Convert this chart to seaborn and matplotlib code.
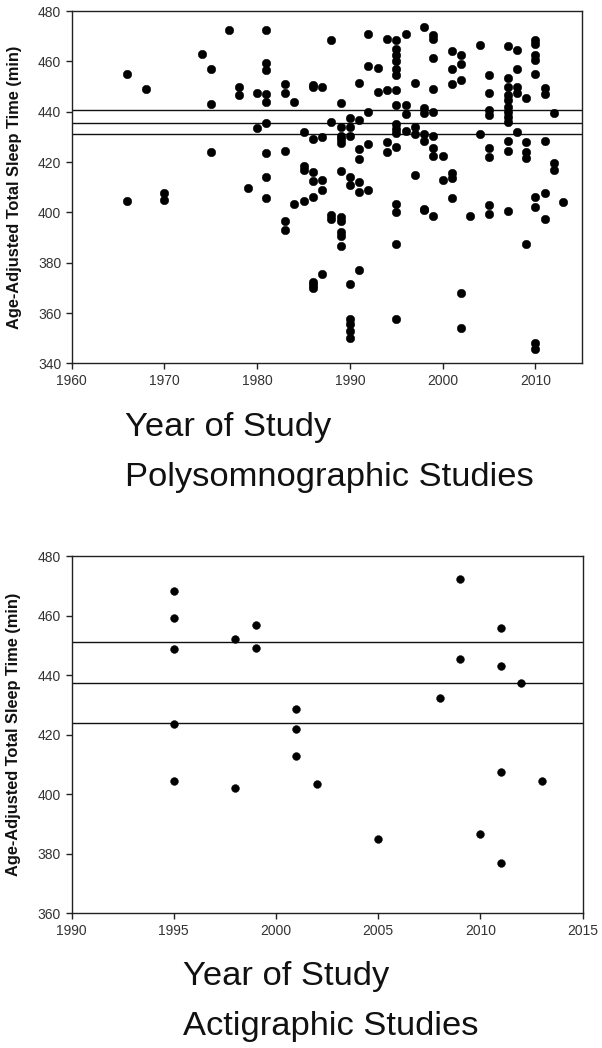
import numpy as np
import pandas as pd
import matplotlib
matplotlib.use("Agg")
import matplotlib.pyplot as plt
import seaborn as sns

# polysomnographic studies: one line per year
psg_year = [
    1966, 1966,
    1968,
    1970, 1970,
    1974,
    1975, 1975, 1975,
    1977,
    1978, 1978,
    1979,
    1980, 1980,
    1981, 1981, 1981, 1981, 1981, 1981, 1981, 1981, 1981,
    1983, 1983, 1983, 1983, 1983,
    1984, 1984,
    1985, 1985, 1985, 1985,
    1986, 1986, 1986, 1986, 1986, 1986, 1986, 1986, 1986,
    1987, 1987, 1987, 1987, 1987,
    1988, 1988, 1988, 1988,
    1989, 1989, 1989, 1989, 1989, 1989, 1989, 1989, 1989, 1989, 1989,
    1990, 1990, 1990, 1990, 1990, 1990, 1990, 1990, 1990, 1990,
    1991, 1991, 1991, 1991, 1991, 1991, 1991,
    1992, 1992, 1992, 1992, 1992,
    1993, 1993,
    1994, 1994, 1994, 1994,
    1995, 1995, 1995, 1995, 1995, 1995, 1995, 1995, 1995, 1995, 1995, 1995, 1995, 1995, 1995, 1995,
    1996, 1996, 1996, 1996,
    1997, 1997, 1997, 1997,
    1998, 1998, 1998, 1998, 1998, 1998, 1998,
    1999, 1999, 1999, 1999, 1999, 1999, 1999, 1999, 1999,
    2000, 2000,
    2001, 2001, 2001, 2001, 2001, 2001,
    2002, 2002, 2002, 2002, 2002,
    2003,
    2004, 2004,
    2005, 2005, 2005, 2005, 2005, 2005, 2005, 2005,
    2007, 2007, 2007, 2007, 2007, 2007, 2007, 2007, 2007, 2007, 2007, 2007,
    2008, 2008, 2008, 2008, 2008,
    2009, 2009, 2009, 2009, 2009,
    2010, 2010, 2010, 2010, 2010, 2010, 2010, 2010, 2010,
    2011, 2011, 2011, 2011, 2011,
    2012, 2012, 2012,
    2013,
]
psg_tst = [
    455, 404.5,
    449,
    407.5, 405,
    463,
    457, 443, 424,
    472.5,
    450, 446.5,
    409.5,
    447.5, 433.5,
    472.5, 459.5, 456.5, 447, 444, 435.5, 423.5, 414, 405.5,
    451, 447.5, 424.5, 396.5, 393,
    444, 403.5,
    432, 418.5, 417, 404.5,
    450.5, 450, 429, 416, 412.5, 406, 372.5, 371, 370,
    450, 430, 413, 409, 375.5,
    468.5, 436, 399, 397.5,
    443.5, 434, 430.5, 429, 427.5, 416.5, 398, 396.5, 392, 390.5, 386.5,
    437.5, 434, 430.5, 414, 411, 371.5, 357.5, 355.5, 353, 350,
    451.5, 436.5, 425, 421, 412, 408, 377,
    471, 458, 440, 427, 409,
    457.5, 448,
    469, 448.5, 428, 424,
    468.5, 465, 462.5, 460, 457, 454.5, 448.5, 442.5, 435, 433, 431.5, 426, 403.5, 400, 387.5, 357.5,
    471, 442.5, 439, 432.5,
    451.5, 434, 431, 415,
    473.5, 441.5, 439.5, 431, 428.5, 401.5, 401,
    470.5, 469, 461.5, 449, 440, 430.5, 425.5, 422.5, 398.5,
    422.5, 413,
    464, 457, 451, 415.5, 413.5, 405.5,
    462.5, 459, 452.5, 368, 354,
    398.5,
    466.5, 431,
    454.5, 447.5, 440.5, 438.5, 425.5, 422, 403, 399.5,
    466, 453.5, 450, 446.5, 444.5, 442, 440, 438, 436, 428.5, 424.5, 400.5,
    464.5, 457, 450, 447.5, 432,
    445.5, 428, 424, 421.5, 387.5,
    468.5, 467, 462.5, 460.5, 455, 406, 402, 348, 345.5,
    449.5, 447, 428.5, 407.5, 397.5,
    439.5, 419.5, 417,
    404,
]
psg_lines = [440.5, 435.6, 431.2]
psg_xticks = [1960, 1970, 1980, 1990, 2000, 2010]
psg_yticks = [340, 360, 380, 400, 420, 440, 460, 480]

# actigraphic studies
act_year = [
    1995, 1995, 1995, 1995, 1995,
    1998, 1998,
    1999, 1999,
    2001, 2001, 2001,
    2002,
    2005,
    2008,
    2009, 2009,
    2010,
    2011, 2011, 2011, 2011,
    2012,
    2013,
]
act_tst = [
    468.2, 459.1, 448.9, 423.5, 404.4,
    452.0, 402.0,
    456.9, 449.2,
    428.6, 421.8, 412.9,
    403.4,
    384.8,
    432.4,
    472.2, 445.4,
    386.6,
    456.0, 443.1, 407.6, 377.0,
    437.5,
    404.4,
]
act_lines = [451.2, 437.5, 423.8]
act_xticks = [1990, 1995, 2000, 2005, 2010, 2015]
act_yticks = [360, 380, 400, 420, 440, 460, 480]

sns.set_style("ticks")
plt.rcParams['font.family'] = ['Liberation Sans', 'DejaVu Sans']

psg = pd.DataFrame({'year': psg_year, 'tst': psg_tst})
act = pd.DataFrame({'year': act_year, 'tst': act_tst})

fig = plt.figure(figsize=(6.02, 10.48), dpi=100)
ax1 = fig.add_axes([0.1191, 0.6533, 0.8472, 0.3362])
ax2 = fig.add_axes([0.1188, 0.1285, 0.8490, 0.3409])


def style_axis(ax, data, lines, xlim, ylim, xticks, yticks, size):
    sns.scatterplot(data=data, x='year', y='tst', ax=ax, color='black',
                    s=size, edgecolor='black', linewidth=0.3, zorder=3)
    for v in lines:
        ax.axhline(v, color='#111111', lw=1.0, zorder=2)
    ax.set_xlim(*xlim)
    ax.set_ylim(*ylim)
    ax.set_xticks(xticks)
    ax.set_yticks(yticks)
    ax.tick_params(direction='out', length=4, width=1, labelsize=10,
                   labelcolor='#333333', color='#222222')
    for sp in ax.spines.values():
        sp.set_visible(True)
        sp.set_linewidth(1.0)
        sp.set_color('#222222')
    ax.set_xlabel('')
    ax.set_ylabel('Age-Adjusted Total Sleep Time (min)', fontsize=11.8,
                  fontweight='bold', color='#111111')
    ax.yaxis.set_label_coords(-0.098, 0.5)


style_axis(ax1, psg, psg_lines, (1960, 2015), (340, 480), psg_xticks, psg_yticks, 38)
style_axis(ax2, act, act_lines, (1990, 2015), (360, 480), act_xticks, act_yticks, 32)

big = dict(fontsize=24.8, color='#111111', ha='left', va='baseline')
fig.text(125 / 602, 1 - 436 / 1048, 'Year of Study', **big)
fig.text(125 / 602, 1 - 486 / 1048, 'Polysomnographic Studies', **big)
fig.text(183 / 602, 1 - 985 / 1048, 'Year of Study', **big)
fig.text(183 / 602, 1 - 1035 / 1048, 'Actigraphic Studies', **big)

fig.savefig('out.png', dpi=100)
